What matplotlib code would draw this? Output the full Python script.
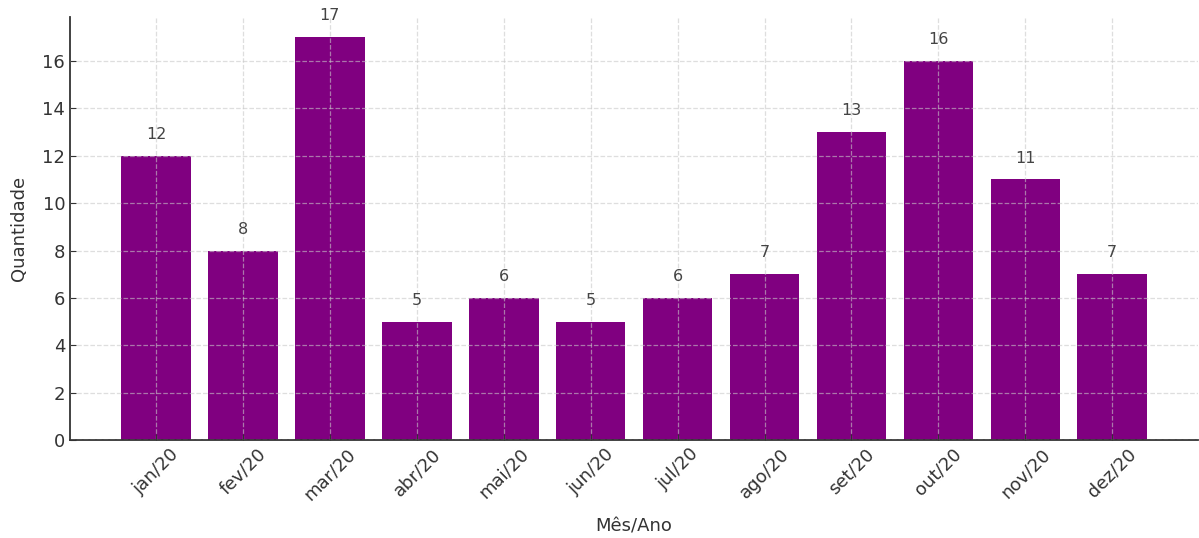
import matplotlib.pyplot as plt
import numpy as np

# dados
meses = ['jan/20', 'fev/20', 'mar/20', 'abr/20', 'mai/20', 'jun/20',
         'jul/20', 'ago/20', 'set/20', 'out/20', 'nov/20', 'dez/20']
quantidade = [12, 8, 17, 5, 6, 5, 6, 7, 13, 16, 11, 7]

fig = plt.figure(figsize=(11.99, 5.38), dpi=100)
ax = fig.add_axes([0.0584, 0.182, 0.941, 0.786])

x = np.arange(len(meses))
bars = ax.bar(x, quantidade, width=0.8, color='purple')

for xi, v in zip(x, quantidade):
    ax.annotate(str(v), (xi, v), xytext=(0, 10), textcoords='offset points',
                ha='center', va='bottom', fontsize=11.5, color='#444444')

ax.set_xticks(x)
ax.set_xticklabels(meses, rotation=45, ha='center')
ax.set_ylim(0, 17.85)
ax.set_xlim(-0.99, 11.99)
ax.set_xlabel('Mês/Ano', fontsize=13, color='#333333', labelpad=10)
ax.set_ylabel('Quantidade', fontsize=13, color='#333333', labelpad=10)

ax.grid(True, linestyle='--', color='#c8c8c8', alpha=0.6, linewidth=0.9)
ax.set_axisbelow(False)
ax.tick_params(labelsize=13, colors='#333333', direction='in', length=4)
for s in ['top', 'right']:
    ax.spines[s].set_visible(False)
for s in ['left', 'bottom']:
    ax.spines[s].set_color('#333333')
    ax.spines[s].set_linewidth(1.3)

fig.savefig('out.png', dpi=100)
